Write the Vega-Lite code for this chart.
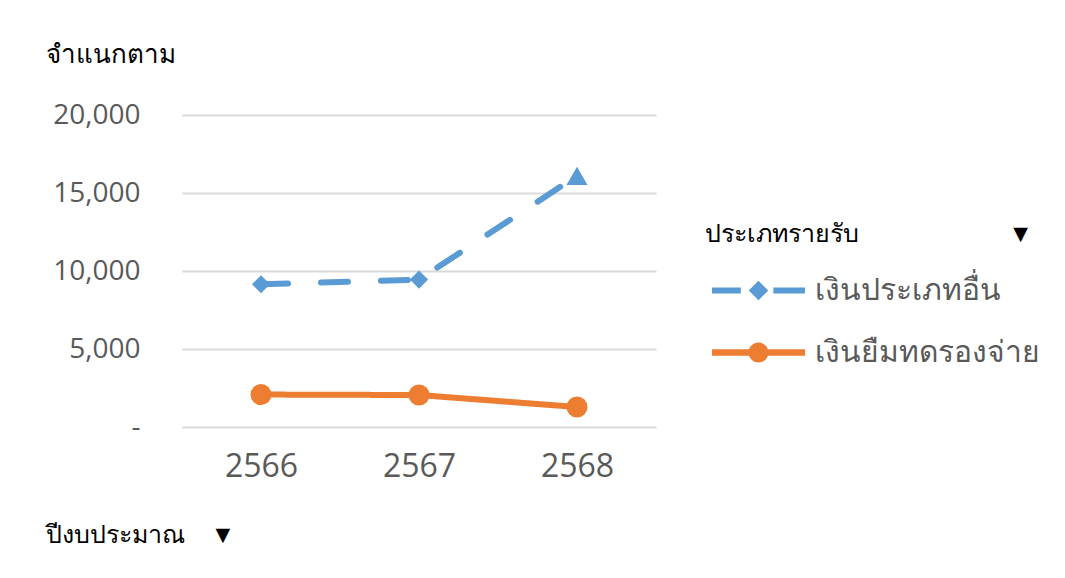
{
  "$schema": "https://vega.github.io/schema/vega-lite/v6.json",
  "width": 474,
  "height": 312,
  "autosize": {"type": "none"},
  "padding": {"left": 182, "top": 115, "right": 409, "bottom": 151},
  "background": "white",
  "config": {"view": {"stroke": null}, "font": "Open Sans"},
  "data": {
    "values": [
      {"year": "2566", "series": "เงินประเภทอื่น", "amount": 9150},
      {"year": "2567", "series": "เงินประเภทอื่น", "amount": 9450},
      {"year": "2568", "series": "เงินประเภทอื่น", "amount": 16100},
      {"year": "2566", "series": "เงินยืมทดรองจ่าย", "amount": 2080},
      {"year": "2567", "series": "เงินยืมทดรองจ่าย", "amount": 2050},
      {"year": "2568", "series": "เงินยืมทดรองจ่าย", "amount": 1280}
    ]
  },
  "encoding": {
    "x": {
      "field": "year",
      "type": "ordinal",
      "scale": {"type": "point", "padding": 0.5},
      "axis": {
        "labelAngle": 0,
        "labelFontSize": 32,
        "labelColor": "#595959",
        "labelPadding": 24,
        "ticks": false,
        "domain": false,
        "grid": false,
        "title": "ปีงบประมาณ\u00a0\u00a0\u00a0\u00a0▼",
        "titleFontSize": 25,
        "titleFontWeight": "normal",
        "titleColor": "#000000",
        "titleAlign": "left",
        "titleBaseline": "middle",
        "titleX": -137,
        "titleY": 107
      }
    },
    "y": {
      "field": "amount",
      "type": "quantitative",
      "scale": {"domain": [0, 20000]},
      "axis": {
        "values": [0, 5000, 10000, 15000, 20000],
        "labelExpr": "datum.value === 0 ? '-' : format(datum.value, ',')",
        "labelFontSize": 28,
        "labelColor": "#595959",
        "labelPadding": 42,
        "ticks": false,
        "domain": false,
        "gridColor": "#D9D9D9",
        "gridWidth": 2,
        "encode": {"labels": {"update": {"dx": {"signal": "datum.value === 0 ? -12 : 0"}}}},
        "title": "จำแนกตาม",
        "titleAngle": 0,
        "titleFontSize": 26,
        "titleFontWeight": "normal",
        "titleColor": "#000000",
        "titleAlign": "left",
        "titleBaseline": "middle",
        "titleX": -137,
        "titleY": -61
      }
    },
    "color": {
      "field": "series",
      "type": "nominal",
      "scale": {"domain": ["เงินประเภทอื่น", "เงินยืมทดรองจ่าย"], "range": ["#5B9BD5", "#ED7D31"]},
      "legend": {
        "orient": "none",
        "legendX": 523,
        "legendY": 107,
        "padding": 0,
        "title": "ประเภทรายรับ\u00a0\u00a0\u00a0\u00a0\u00a0\u00a0\u00a0\u00a0\u00a0\u00a0\u00a0\u00a0\u00a0\u00a0\u00a0\u00a0\u00a0\u00a0\u00a0\u00a0\u00a0\u00a0\u00a0▼",
        "titleFontSize": 25,
        "titleFontWeight": "normal",
        "titleColor": "#000000",
        "titleLimit": 600,
        "titlePadding": -3,
        "labelFontSize": 30,
        "labelColor": "#595959",
        "labelLimit": 600,
        "labelOffset": 10,
        "symbolSize": 8649,
        "symbolOffset": 7,
        "symbolStrokeWidth": 0,
        "rowPadding": -1,
        "encode": {
          "symbols": {
            "update": {
              "shape": {"signal": "datum.value === 'เงินประเภทอื่น' ? 'M-1,-0.065L-0.38,-0.065L-0.38,0.065L-1,0.065Z M-0.21,0L0,-0.21L0.21,0L0,0.21Z M0.32,-0.065L1,-0.065L1,0.065L0.32,0.065Z' : 'M-1,-0.07L-0.2,-0.07L-0.2,0.07L-1,0.07Z M0.2,-0.07L1,-0.07L1,0.07L0.2,0.07Z M0.215,0A0.215,0.215 0 1,1 -0.215,0A0.215,0.215 0 1,1 0.215,0Z'"},
              "fill": {"signal": "datum.value === 'เงินประเภทอื่น' ? '#5B9BD5' : '#ED7D31'"},
              "stroke": {"value": "transparent"},
              "opacity": {"value": 1}
            }
          }
        }
      }
    }
  },
  "layer": [
    {
      "mark": {"type": "line", "strokeWidth": 6, "strokeCap": "round", "strokeJoin": "round"},
      "encoding": {
        "strokeDash": {
          "field": "series",
          "type": "nominal",
          "scale": {"domain": ["เงินประเภทอื่น", "เงินยืมทดรองจ่าย"], "range": [[27, 33], [1, 0]]},
          "legend": null
        }
      }
    },
    {
      "transform": [{"filter": "datum.series === 'เงินประเภทอื่น' && datum.year !== '2568'"}],
      "mark": {"type": "point", "filled": true, "opacity": 1, "shape": "diamond", "size": 330}
    },
    {
      "transform": [{"filter": "datum.series === 'เงินประเภทอื่น' && datum.year === '2568'"}],
      "mark": {"type": "point", "filled": true, "opacity": 1, "shape": "triangle-up", "size": 441}
    },
    {
      "transform": [{"filter": "datum.series === 'เงินยืมทดรองจ่าย'"}],
      "mark": {"type": "point", "filled": true, "opacity": 1, "shape": "circle", "size": 441}
    }
  ]
}
